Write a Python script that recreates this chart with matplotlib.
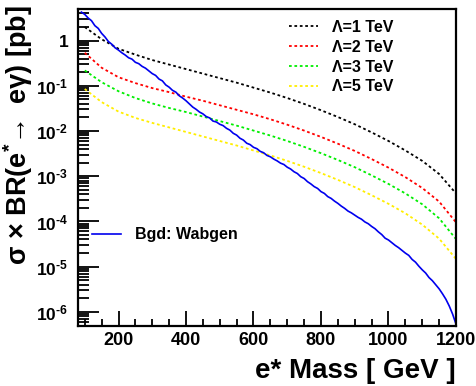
import matplotlib
matplotlib.use("Agg")
import matplotlib.pyplot as plt
import numpy as np
from matplotlib.ticker import FixedLocator, FuncFormatter, LogLocator, NullFormatter, MultipleLocator

plt.rcParams['font.family'] = ['Liberation Sans', 'DejaVu Sans']
plt.rcParams['font.weight'] = 'bold'
plt.rcParams['mathtext.fontset'] = 'custom'
plt.rcParams['mathtext.rm'] = 'Liberation Sans:bold'
plt.rcParams['mathtext.bf'] = 'Liberation Sans:bold'
plt.rcParams['mathtext.it'] = 'Liberation Sans:bold'

# signal masses (GeV)
mass = [100, 150, 200, 250, 300, 350, 400, 450, 500, 550, 600, 650, 700,
        750, 800, 850, 900, 950, 1000, 1050, 1100, 1150, 1200]
# log10 of sigma x BR [pb]
lam1 = [0.30, 0.03, -0.18, -0.31, -0.43, -0.53, -0.63, -0.73, -0.83, -0.93, -1.04,
        -1.15, -1.27, -1.40, -1.54, -1.69, -1.85, -2.03, -2.22, -2.43, -2.66, -2.95, -3.38]
lam2 = [-0.27, -0.60, -0.81, -0.94, -1.05, -1.14, -1.24, -1.33, -1.43, -1.53, -1.63,
        -1.74, -1.86, -1.99, -2.13, -2.28, -2.44, -2.62, -2.81, -3.02, -3.26, -3.56, -4.02]
lam3 = [-0.66, -0.92, -1.12, -1.27, -1.39, -1.49, -1.58, -1.68, -1.78, -1.88, -1.99,
        -2.10, -2.22, -2.35, -2.49, -2.64, -2.80, -2.98, -3.17, -3.38, -3.62, -3.93, -4.39]
lam5 = [-1.07, -1.36, -1.57, -1.71, -1.82, -1.92, -2.02, -2.12, -2.22, -2.32, -2.43,
        -2.54, -2.66, -2.79, -2.93, -3.08, -3.24, -3.42, -3.61, -3.82, -4.07, -4.38, -4.83]

# background (Wabgen) mass bins and log10 values
bgd_mass = list(range(90, 1201, 10))
bgd = [0.63, 0.58, 0.50, 0.44, 0.33, 0.27, 0.16, 0.08, -0.02, -0.08, -0.16,
       -0.21, -0.27, -0.32, -0.38, -0.41, -0.48, -0.51, -0.57, -0.61, -0.67,
       -0.73, -0.77, -0.85, -0.89, -0.98, -1.03, -1.10, -1.14, -1.22, -1.27,
       -1.33, -1.40, -1.47, -1.52, -1.58, -1.62, -1.68, -1.71, -1.78, -1.80,
       -1.85, -1.88, -1.94, -1.98, -2.05, -2.09, -2.16, -2.20, -2.27, -2.30,
       -2.36, -2.39, -2.45, -2.48, -2.54, -2.57, -2.62, -2.66, -2.71, -2.74,
       -2.80, -2.84, -2.90, -2.94, -3.01, -3.05, -3.12, -3.17, -3.23, -3.27,
       -3.34, -3.38, -3.45, -3.49, -3.55, -3.60, -3.66, -3.71, -3.77, -3.81,
       -3.86, -3.91, -3.95, -4.01, -4.05, -4.11, -4.16, -4.23, -4.29, -4.37,
       -4.41, -4.47, -4.53, -4.58, -4.64, -4.70, -4.75, -4.84, -4.90, -4.99,
       -5.07, -5.14, -5.24, -5.31, -5.40, -5.49, -5.60, -5.72, -5.87, -6.05,
       -6.27]

labels = ['Λ=1 TeV', 'Λ=2 TeV', 'Λ=3 TeV', 'Λ=5 TeV']
colors = ['black', 'red', '#00ee00', '#ffee00']

fig = plt.figure(figsize=(4.76, 3.86), dpi=100)
ax = fig.add_axes([78/476, 60.5/386, (456-78)/476, (325.5-9)/386])

sig_lines = []
for vals, lab, col in zip([lam1, lam2, lam3, lam5], labels, colors):
    l, = ax.plot(mass, 10**np.array(vals), color=col, lw=1.3, ls=(0, (1.5, 1.5)), label=lab)
    sig_lines.append(l)
bl, = ax.plot(bgd_mass, 10**np.array(bgd), color='#0000ee', lw=1.2, label='Bgd: Wabgen')

ax.set_yscale('log')
ax.set_xlim(80, 1200)
ax.set_ylim(5e-7, 5)

ax.xaxis.set_major_locator(FixedLocator([200, 400, 600, 800, 1000, 1200]))
ax.xaxis.set_minor_locator(MultipleLocator(50))
ax.yaxis.set_major_locator(LogLocator(base=10, numticks=20))
ax.yaxis.set_minor_locator(LogLocator(base=10, subs=np.arange(2, 10), numticks=20))
ax.yaxis.set_minor_formatter(NullFormatter())
ax.xaxis.set_minor_formatter(NullFormatter())

def yfmt(v, pos):
    e = int(round(np.log10(v)))
    if e == 0:
        return '1'
    return r'$10^{\text{-}%d}$' % abs(e)
ax.yaxis.set_major_formatter(FuncFormatter(yfmt))

ax.tick_params(axis='both', which='both', direction='in', top=False, right=False,
               width=1.3, labelsize=13)
ax.tick_params(axis='y', which='major', length=15, pad=7, labelsize=12.5)
ax.tick_params(axis='y', which='minor', length=8)
ax.tick_params(axis='x', which='major', length=11, pad=5)
ax.tick_params(axis='x', which='minor', length=5)
for lbl in ax.get_xticklabels() + ax.get_yticklabels():
    lbl.set_fontweight('bold')
for s in ax.spines.values():
    s.set_linewidth(1.6)
    s.set_color('black')

ax.set_xlabel('e* Mass [ GeV ]', fontsize=20, fontweight='bold', loc='right', labelpad=6)
ax.set_ylabel(r'σ × BR(e$^{*}\!\rightarrow$ eγ) [pb]', fontsize=19.5, fontweight='bold', loc='top')
ax.yaxis.set_label_coords(-0.114, 1.013)

leg1 = ax.legend(handles=sig_lines, loc='upper left', frameon=False,
                 prop={'weight': 'bold', 'size': 11.5}, handlelength=1.8,
                 handletextpad=0.9, borderpad=0, borderaxespad=0,
                 bbox_to_anchor=(0.558, 0.965), labelspacing=0.3)
ax.add_artist(leg1)
ax.legend(handles=[bl], loc='center left', frameon=False,
          prop={'weight': 'bold', 'size': 11.5}, handlelength=1.8,
          handletextpad=0.9, borderpad=0, borderaxespad=0,
          bbox_to_anchor=(0.037, 0.286))

fig.savefig('out.png', dpi=100)
